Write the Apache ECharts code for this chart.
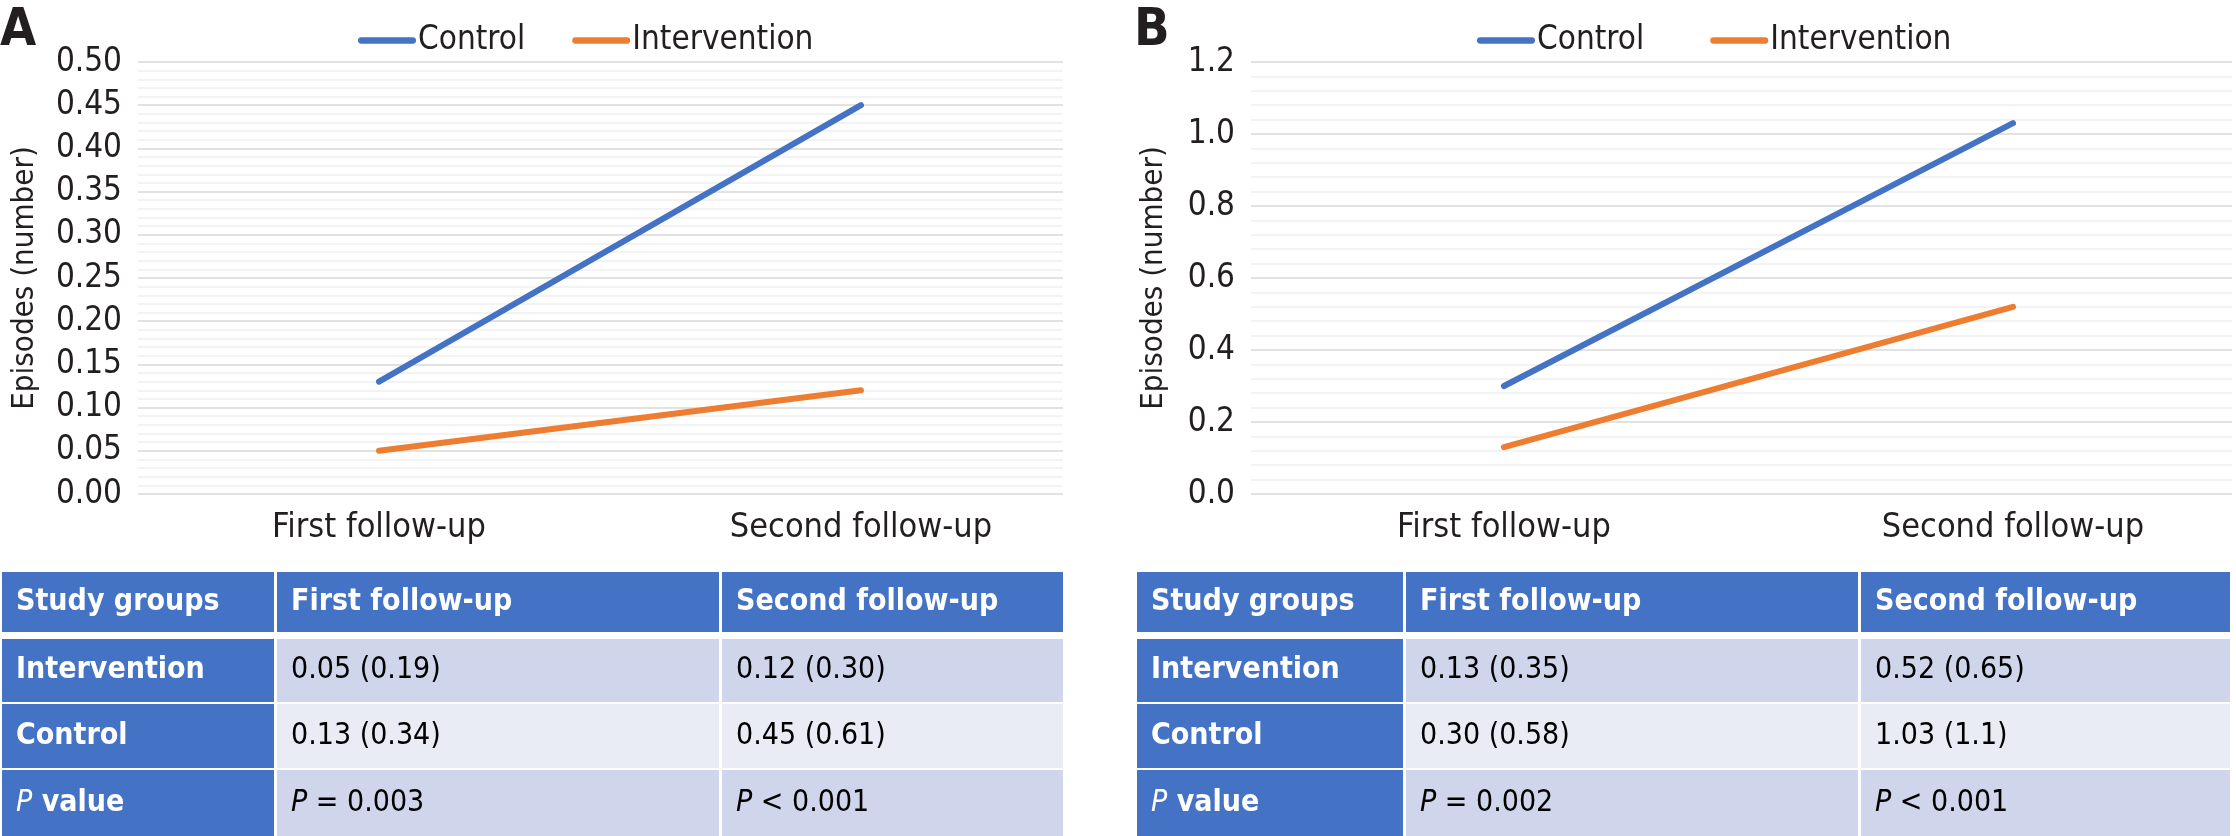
<!DOCTYPE html>
<html><head><meta charset="utf-8">
<script src="https://cdn.jsdelivr.net/npm/echarts@6/dist/echarts.min.js"></script>
<style>html,body{margin:0;padding:0;background:#fff}#c{width:2236px;height:836px}</style>
</head><body><div id="c"></div>
<script>
// ---- data ----
const categories = ['First follow-up', 'Second follow-up'];
const seriesNames = ['Control', 'Intervention'];
const controlA = [0.13, 0.45];
const interventionA = [0.05, 0.12];
const controlB = [0.30, 1.03];
const interventionB = [0.13, 0.52];
const yTicksA = [0, 0.5, 0.05];   // min, max, interval
const yTicksB = [0, 1.2, 0.2];
const tableHeader = ['Study groups', 'First follow-up', 'Second follow-up'];
const tableRowNames = ['Intervention', 'Control', 'P value'];
const tableA = [['0.05 (0.19)', '0.12 (0.30)'], ['0.13 (0.34)', '0.45 (0.61)'], ['P = 0.003', 'P < 0.001']];
const tableB = [['0.13 (0.35)', '0.52 (0.65)'], ['0.30 (0.58)', '1.03 (1.1)'], ['P = 0.002', 'P < 0.001']];
const panelLabels = ['A', 'B'];
const yTitle = 'Episodes (number)';

// ---- style ----
const FONT = '"DejaVu Sans Condensed", "DejaVu Sans", sans-serif';
const TXT = '#231F20';
const BLUE = '#4472C4', ORANGE = '#ED7D31';
const ROW1 = '#CFD5EA', ROW2 = '#E9EBF5';

const panels = [
  {left: 138, linesW: 925, sLeft: 379, sW: 482, ctrl: controlA, intv: interventionA, ticks: yTicksA, dec: 2,
   nameGap: 98, legendLeft: 353, legendGap: 47, labelX: 0,
   table: tableA, cols: [[2, 274], [277, 719], [722, 1063]]},
  {left: 1251, linesW: 981, sLeft: 1504, sW: 509, ctrl: controlB, intv: interventionB, ticks: yTicksB, dec: 1,
   nameGap: 82, legendLeft: 1472, legendGap: 66, labelX: 1134,
   table: tableB, cols: [[1137, 1403], [1406, 1858], [1861, 2230]]}
];
const TOP = 62, H = 432;
const rowsY = [[572, 632], [639, 702], [704, 768], [770, 836]];

const grid = [], xAxis = [], yAxis = [], series = [], legend = [], graphic = [];
const capsule = 'path://M3,0 L52,0 A3,3 0 0 1 52,6 L3,6 A3,3 0 0 1 3,0 Z';

function rich(s) {
  const m = s.match(/^P(\s.*)$/);
  if (m) return '{i|P}{n|' + m[1] + '}';
  return '{n|' + s + '}';
}

panels.forEach((p, k) => {
  const g0 = grid.length;
  grid.push({left: p.left, top: TOP, width: p.linesW, height: H});
  grid.push({left: p.sLeft, top: TOP, width: p.sW, height: H});
  xAxis.push({gridIndex: g0, type: 'category', data: categories, show: false});
  xAxis.push({gridIndex: g0 + 1, type: 'category', data: categories, boundaryGap: false,
    axisLine: {show: false}, axisTick: {show: false},
    axisLabel: {fontSize: 34, fontFamily: FONT, color: TXT, margin: 17, interval: 0}});
  const yBase = {type: 'value', min: p.ticks[0], max: p.ticks[1], interval: p.ticks[2]};
  yAxis.push(Object.assign({gridIndex: g0}, yBase, {
    axisLine: {show: false}, axisTick: {show: false},
    axisLabel: {fontSize: 33, fontFamily: FONT, color: TXT, margin: 16,
      formatter: v => v.toFixed(p.dec)},
    splitLine: {lineStyle: {color: '#D9D9D9', width: 1.5}},
    minorTick: {show: false, splitNumber: 5},
    minorSplitLine: {show: true, lineStyle: {color: '#EFEFEF', width: 1.5}},
    name: yTitle, nameLocation: 'middle', nameGap: p.nameGap,
    nameTextStyle: {fontSize: 31, fontFamily: FONT, color: TXT}
  }));
  yAxis.push(Object.assign({gridIndex: g0 + 1, show: false}, yBase, {splitLine: {show: false}}));
  const vals = [p.ctrl, p.intv], cols = [BLUE, ORANGE];
  seriesNames.forEach((n, i) => {
    series.push({name: n, type: 'line', xAxisIndex: g0 + 1, yAxisIndex: g0 + 1, data: vals[i],
      symbol: 'none', color: cols[i], lineStyle: {width: 6, cap: 'round', color: cols[i]},
      silent: true, animation: false});
  });
  legend.push({data: seriesNames, left: p.legendLeft, top: 19, itemGap: p.legendGap,
    icon: capsule, itemWidth: 58, itemHeight: 8,
    textStyle: {fontSize: 33, fontFamily: FONT, color: TXT, padding: [0, 0, 0, -3]}});
  graphic.push({type: 'text', left: p.labelX, top: 5,
    style: {text: panelLabels[k], font: 'bold 52px ' + FONT, fill: TXT}});

  // table
  const allRows = [tableHeader].concat(tableRowNames.map((r, i) => [r].concat(p.table[i])));
  allRows.forEach((row, ri) => {
    const [y0, y1] = rowsY[ri];
    row.forEach((cell, ci) => {
      const [x0, x1] = p.cols[ci];
      const head = ri === 0 || ci === 0;
      const fill = head ? BLUE : (ri === 2 ? ROW2 : ROW1);
      graphic.push({type: 'rect', shape: {x: x0, y: y0, width: x1 - x0, height: y1 - y0},
        style: {fill: fill}, silent: true});
      const color = head ? '#FFFFFF' : '#000000';
      const weight = head ? 'bold' : 'normal';
      graphic.push({type: 'text', x: x0 + 14, y: (y0 + y1) / 2,
        style: {text: rich(cell), verticalAlign: 'middle', align: 'left',
          rich: {
            n: {fontSize: 30, fontFamily: FONT, fontWeight: weight, fill: color, color: color},
            i: {fontSize: 30, fontFamily: FONT, fontWeight: 'normal', fontStyle: 'italic', fill: color, color: color}
          }}, silent: true});
    });
  });
});

const chart = echarts.init(document.getElementById('c'), null, {renderer: 'canvas'});
chart.setOption({backgroundColor: '#fff', animation: false, grid, xAxis, yAxis, series, legend, graphic});
</script></body></html>
